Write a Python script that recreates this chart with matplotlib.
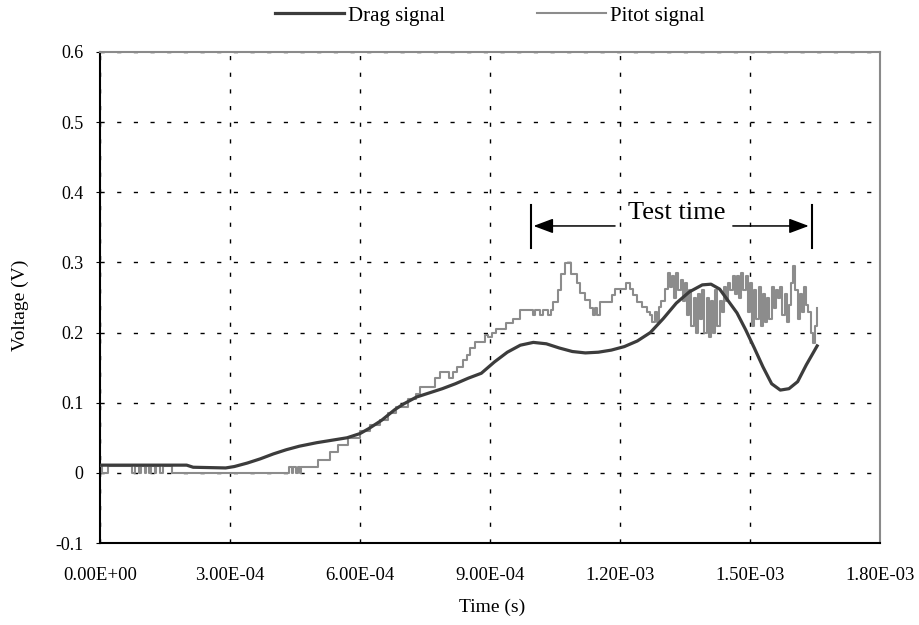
import numpy as np
import matplotlib
matplotlib.use('Agg')
import matplotlib.pyplot as plt

plt.rcParams['font.family'] = ['Liberation Serif', 'DejaVu Serif']

# Drag balance output (smooth), time in microseconds
drag_t_us = [0, 200, 215, 290, 310, 340, 370, 400, 430, 460, 500, 540, 570, 600,
             620, 650, 680, 700, 730, 760, 790, 820, 850, 880, 910, 940, 970, 1000,
             1030, 1060, 1090, 1120, 1150, 1180, 1210, 1240, 1270, 1300, 1330, 1360,
             1390, 1410, 1430, 1450, 1470, 1490, 1510, 1530, 1550, 1570, 1590, 1610,
             1630, 1655]
drag_v = [0.011, 0.011, 0.008, 0.007, 0.009, 0.014, 0.020, 0.027, 0.033, 0.038,
          0.043, 0.047, 0.050, 0.056, 0.063, 0.075, 0.090, 0.098, 0.108, 0.114,
          0.120, 0.127, 0.135, 0.142, 0.158, 0.172, 0.182, 0.186, 0.184, 0.178,
          0.173, 0.171, 0.172, 0.175, 0.180, 0.188, 0.200, 0.220, 0.242, 0.258,
          0.268, 0.269, 0.262, 0.245, 0.228, 0.204, 0.178, 0.151, 0.127, 0.118,
          0.120, 0.130, 0.154, 0.181]

# Pitot probe output, quantised steps during the rise
pitot_t_us = [0, 5, 18, 74, 81, 90, 94, 103, 106, 114, 117, 126, 129, 138, 145,
              166, 436, 443, 446, 453, 456, 462, 465, 503, 531, 550, 572, 600, 623,
              646, 665, 684, 711, 730, 738, 773, 784, 806, 815, 823, 838, 846, 853,
              865, 888, 895, 905, 915, 938, 954, 969, 1000, 1005, 1015, 1022, 1035,
              1040, 1046, 1058, 1065, 1073, 1088, 1100, 1108, 1119, 1131, 1138, 1142,
              1148, 1154, 1181, 1188, 1215, 1223, 1231, 1239, 1250, 1262]
pitot_v = [0.010, 0.0, 0.010, 0.0, 0.010, 0.0, 0.010, 0.0, 0.010, 0.0, 0.010, 0.0,
           0.010, 0.0, 0.010, 0.0, 0.009, 0.0, 0.009, 0.0, 0.009, 0.0, 0.009, 0.018,
           0.030, 0.040, 0.050, 0.060, 0.068, 0.075, 0.085, 0.094, 0.105, 0.113,
           0.123, 0.135, 0.144, 0.135, 0.144, 0.151, 0.161, 0.168, 0.178, 0.187,
           0.197, 0.193, 0.200, 0.205, 0.213, 0.220, 0.232, 0.225, 0.232, 0.225,
           0.232, 0.225, 0.232, 0.244, 0.260, 0.284, 0.299, 0.284, 0.270, 0.256,
           0.246, 0.235, 0.225, 0.235, 0.225, 0.244, 0.254, 0.262, 0.270, 0.262,
           0.254, 0.244, 0.237, 0.230]

# Pitot output during the test window, sampled every 5 us from 1270 us
pitot_tail_start_us = 1270
pitot_tail_step_us = 5
pitot_tail_v = [0.225, 0.215, 0.230, 0.215, 0.237, 0.245, 0.245, 0.262, 0.285, 0.265,
                0.280, 0.250, 0.285, 0.260, 0.275, 0.245, 0.270, 0.225, 0.260, 0.210,
                0.250, 0.200, 0.255, 0.220, 0.260, 0.200, 0.250, 0.193, 0.245, 0.200,
                0.260, 0.210, 0.245, 0.230, 0.265, 0.245, 0.270, 0.260, 0.280, 0.255,
                0.280, 0.250, 0.285, 0.260, 0.280, 0.230, 0.270, 0.210, 0.260, 0.220,
                0.265, 0.210, 0.255, 0.215, 0.250, 0.220, 0.265, 0.235, 0.260, 0.250,
                0.265, 0.225, 0.255, 0.215, 0.240, 0.270, 0.295, 0.260, 0.220, 0.255,
                0.230, 0.265, 0.240, 0.230, 0.200, 0.185, 0.210, 0.235]

# Test window markers and arrows (us, V)
test_start_us = 994
test_end_us = 1642
bar_v = (0.321, 0.382)
arrow_v = 0.352
arrow_from_us = (1195, 1454)
label_pos = (1332, 0.370)

x_ticks = [0, 3e-4, 6e-4, 9e-4, 1.2e-3, 1.5e-3, 1.8e-3]
x_labels = ['0.00E+00', '3.00E-04', '6.00E-04', '9.00E-04', '1.20E-03', '1.50E-03', '1.80E-03']
y_ticks = [-0.1, 0, 0.1, 0.2, 0.3, 0.4, 0.5, 0.6]
y_labels = ['-0.1', '0', '0.1', '0.2', '0.3', '0.4', '0.5', '0.6']

us = 1e-6
drag_t = np.array(drag_t_us) * us
tail_t = pitot_tail_start_us + pitot_tail_step_us * np.arange(len(pitot_tail_v))
p_t = np.concatenate([pitot_t_us, tail_t]) * us
p_v = np.concatenate([pitot_v, pitot_tail_v])

fig = plt.figure(figsize=(9.2, 6.25), dpi=100)
ax = fig.add_axes([0.1087, 0.1312, 0.8478, 0.7856])

ax.plot(p_t, p_v, drawstyle='steps-post', color='#8c8c8c', lw=1.5, label='Pitot signal', zorder=3)
ax.plot(drag_t, drag_v, color='#3c3c3c', lw=2.3, label='Drag signal', zorder=4)

ax.set_xlim(0, 1.8e-3)
ax.set_ylim(-0.1, 0.6)
ax.set_xticks(x_ticks)
ax.set_xticklabels(x_labels, fontsize=13.5)
ax.set_yticks(y_ticks)
ax.set_yticklabels(y_labels, fontsize=13)
ax.tick_params(axis='x', length=0, pad=17)
ax.tick_params(axis='y', length=3, direction='out', pad=9)
ax.grid(True, color='black', linestyle=(0, (3, 9)), linewidth=1.0)

for s in ['top', 'right']:
    ax.spines[s].set_color('#8a8a8a')
    ax.spines[s].set_linewidth(1.5)
for s in ['left', 'bottom']:
    ax.spines[s].set_color('black')
    ax.spines[s].set_linewidth(1.5)

# Axis titles
fig.text(492 / 920, 1 - 607 / 625, 'Time (s)', fontsize=14, ha='center', va='center')
fig.text(20 / 920, 1 - 305 / 625, 'Voltage (V)', fontsize=14, rotation=90, ha='center', va='center')

# Test time annotation
for t in (test_start_us, test_end_us):
    ax.plot([t * us, t * us], bar_v, color='black', lw=1.5, zorder=5)
ax.annotate('', xy=(test_start_us * us, arrow_v), xytext=(arrow_from_us[0] * us, arrow_v),
            arrowprops=dict(arrowstyle='-|>,head_length=1.2,head_width=0.45', color='black', lw=1.1))
ax.annotate('', xy=(test_end_us * us, arrow_v), xytext=(arrow_from_us[1] * us, arrow_v),
            arrowprops=dict(arrowstyle='-|>,head_length=1.2,head_width=0.45', color='black', lw=1.1))
ax.text(label_pos[0] * us, label_pos[1], 'Test time', fontsize=19, ha='center', va='center')

h, l = ax.get_legend_handles_labels()
fig.legend(h[::-1], l[::-1], loc='center', bbox_to_anchor=(490 / 920, 1 - 16 / 625), ncol=2,
           frameon=False, fontsize=15, handlelength=3.3, handletextpad=0.2, columnspacing=4.4,
           borderpad=0)

plt.savefig('out.png', dpi=100)
